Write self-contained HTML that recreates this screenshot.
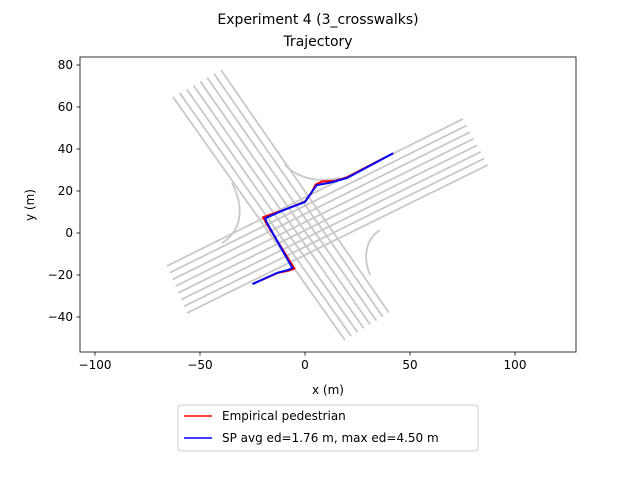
<!DOCTYPE html>
<html><head><meta charset="utf-8"><style>
body{margin:0;background:#fff;font-family:"Liberation Sans","DejaVu Sans",sans-serif;}
svg text{font-family:"DejaVu Sans","Liberation Sans",sans-serif;}
</style></head><body>
<svg width="640" height="480" xmlns="http://www.w3.org/2000/svg" id="c">
<rect width="640" height="480" fill="#fff"/>
<text x="318" y="24" font-size="14" text-anchor="middle">Experiment 4 (3_crosswalks)</text>
<text x="318" y="46" font-size="14" text-anchor="middle">Trajectory</text>
<g id="roads"></g>
<g id="traj"></g>
<rect x="80" y="57" width="496" height="295" fill="none" stroke="#000" stroke-width="0.8"/>
<g id="axes"></g>
<text x="328" y="394" font-size="12" text-anchor="middle">x (m)</text>
<text x="34" y="205" font-size="12" text-anchor="middle" transform="rotate(-90 34 205)">y (m)</text>
<g>
<rect x="178" y="405" width="300" height="46" rx="3" fill="#fff" stroke="#ccc"/>
<line x1="184" y1="416" x2="212" y2="416" stroke="red" stroke-width="1.5"/>
<text x="222" y="420" font-size="12">Empirical pedestrian</text>
<line x1="184" y1="438" x2="212" y2="438" stroke="blue" stroke-width="1.5"/>
<text x="222" y="442" font-size="12">SP avg ed=1.76 m, max ed=4.50 m</text>
</g>
</svg>
<script>
const xTicks=[-100,-50,0,50,100];
const yTicks=[-40,-20,0,20,40,60,80];
const nwStart=[[-62.9,64.8],[-40,77.6]];
const seEnd=[[19,-51],[40,-38]];
const swStart=[[-65.7,-15.7],[-56.2,-38.1]];
const neEnd=[[75.2,54.3],[87.1,32.4]];
const cornerA=[[-34.8,23.8],[-28.1,11],[-31,0.5],[-39.5,-4.8]];
const cornerB=[[-9.5,32.4],[-2.4,25.2],[7.1,24.3],[16.7,26.2]];
const cornerC=[[35.7,1.4],[28.6,-3.3],[27.6,-11.9],[31,-20]];
const empX=[-25,-13,-8,-5,-18.5,-20,-10,0,3,5,8,14,20,42];
const empY=[-24.3,-19,-18,-17,4.8,7.5,11,15,19,23,24.5,24.8,26.5,38];
const spX=[-25,-13.3,-8,-6,-18.1,-19,-10,0,3.2,5.6,12,20,42];
const spY=[-24.3,-19,-17.6,-16.7,4.8,7,11,14.8,19.5,22.8,24,26.2,38];
const X=v=>305+v*2.1, Y=v=>233-v*2.1;
const ns='http://www.w3.org/2000/svg';
function mk(t,a,p){const e=document.createElementNS(ns,t);for(const k in a)e.setAttribute(k,a[k]);p.appendChild(e);return e;}
const roads=document.getElementById('roads');
function lanes(A,B,n){for(let i=0;i<n;i++){const f=i/(n-1);
 const x1=A[0][0]+(A[1][0]-A[0][0])*f,y1=A[0][1]+(A[1][1]-A[0][1])*f;
 const x2=B[0][0]+(B[1][0]-B[0][0])*f,y2=B[0][1]+(B[1][1]-B[0][1])*f;
 const l=mk('line',{x1:X(x1),y1:Y(y1),x2:X(x2),y2:Y(y2),stroke:'#c8c8c8','stroke-width':1.8},roads);
 
 }}
lanes(nwStart,seEnd,8);lanes(swStart,neEnd,8);
function corner(P){const d='M'+X(P[0][0])+' '+Y(P[0][1])+' C'+P.slice(1).map(p=>X(p[0])+' '+Y(p[1])).join(' ');
 const c=mk('path',{d:d,fill:'none',stroke:'#c8c8c8','stroke-width':1.8},roads);
 
 }
corner(cornerA);corner(cornerB);corner(cornerC);
const tr=document.getElementById('traj');
function path(xs,ys,c,name){let d='';xs.forEach((x,i)=>{d+=(i?'L':'M')+X(x)+' '+Y(ys[i]);});
 const p=mk('path',{d:d,fill:'none',stroke:c,'stroke-width':2,'stroke-linejoin':'round'},tr);
 
 }
path(empX,empY,'red','empirical-trajectory');
path(spX,spY,'blue','sp-trajectory');
const ax=document.getElementById('axes');
xTicks.forEach(t=>{const l=mk('line',{x1:X(t),x2:X(t),y1:352,y2:355.5,stroke:'#000','stroke-width':0.8},ax);
 
 
 const s=mk('text',{x:X(t),y:369,'font-size':12,'text-anchor':'middle'},ax);s.textContent=t<0?'\u2212'+(-t):t;
 
 });
yTicks.forEach(t=>{const l=mk('line',{x1:76.5,x2:80,y1:Y(t),y2:Y(t),stroke:'#000','stroke-width':0.8},ax);
 
 
 const s=mk('text',{x:73,y:Y(t)+4,'font-size':12,'text-anchor':'end'},ax);s.textContent=t<0?'\u2212'+(-t):t;
 
 });
</script>
</body></html>
